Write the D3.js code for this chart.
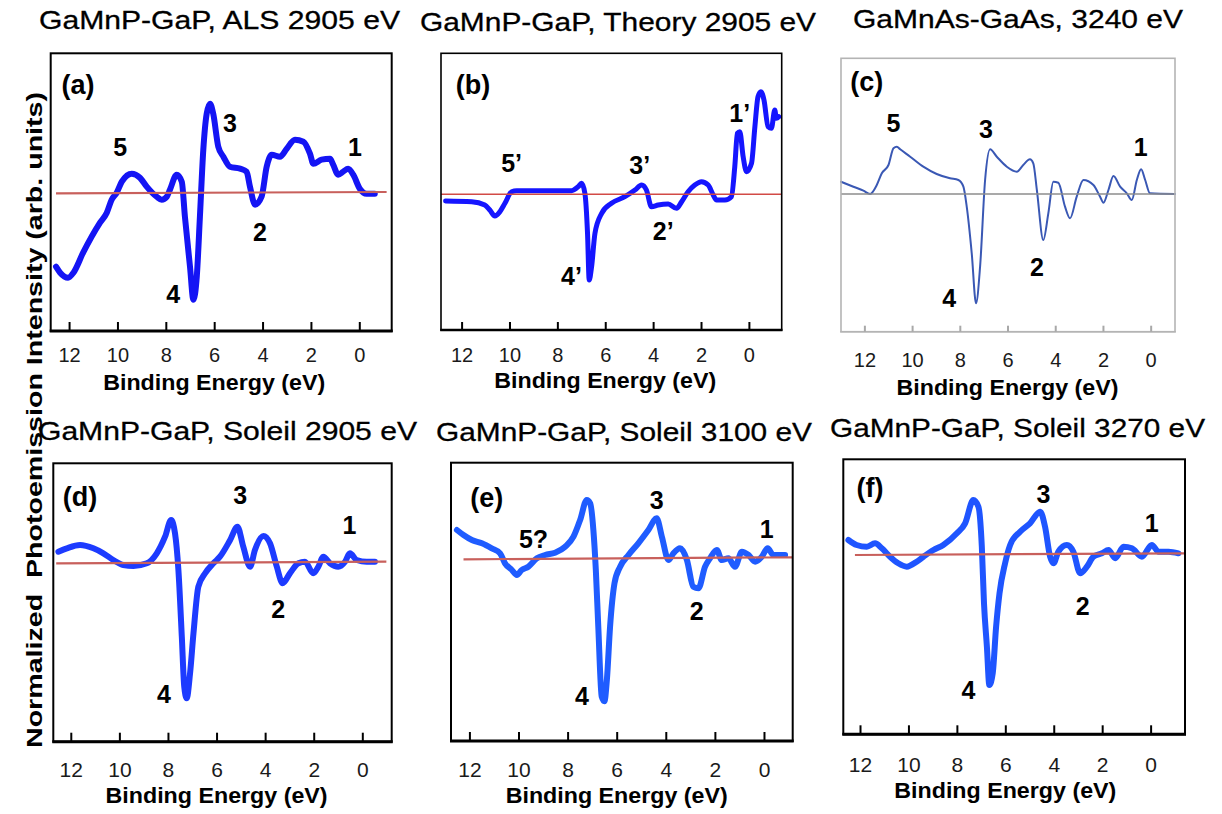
<!DOCTYPE html>
<html>
<head>
<meta charset="utf-8">
<script src="https://cdn.jsdelivr.net/npm/d3@7/dist/d3.min.js"></script>
<style>
  html, body { margin: 0; padding: 0; background: #fff; }
  svg { display: block; font-family: "Liberation Sans", Arial, Helvetica, sans-serif; }
</style>
</head>
<body>
<svg id="chart" width="1222" height="814"></svg>
<script>
// Binding-energy ticks shared by all panels (eV)
const energyTicks = [12, 10, 8, 6, 4, 2, 0];

const panelTitles = [
  "GaMnP-GaP, ALS 2905 eV",
  "GaMnP-GaP, Theory 2905 eV",
  "GaMnAs-GaAs, 3240 eV",
  "GaMnP-GaP, Soleil 2905 eV",
  "GaMnP-GaP, Soleil 3100 eV",
  "GaMnP-GaP, Soleil 3270 eV"
];
const panelTags = ["(a)", "(b)", "(c)", "(d)", "(e)", "(f)"];
const xTitle = "Binding Energy (eV)";
const yTitle = "Normalized  Photoemission Intensity (arb. units)";

// (a) GaMnP-GaP, ALS 2905 eV
const alsEnergy = [12.54,12.37,12.04,11.82,11.42,10.72,10.44,10.24,10.03,9.82,9.41,9.07,8.79,8.38,8.17,7.96,7.83,7.55,7.34,7.21,7.0,6.86,6.72,6.59,6.45,6.31,6.17,6.04,5.83,5.62,5.35,4.93,4.66,4.52,4.31,4.04,3.83,3.62,3.28,3.0,2.66,2.31,2.04,1.90,1.56,1.21,1.08,0.87,0.67,0.46,0.25,-0.02,-0.30,-0.64];
const alsSignal = [-0.74,-0.80,-0.85,-0.80,-0.60,-0.30,-0.20,-0.07,0.00,0.11,0.19,0.15,0.06,-0.04,-0.07,-0.04,0.03,0.18,0.11,-0.24,-0.74,-1.07,-0.84,-0.24,0.43,0.79,0.89,0.79,0.46,0.36,0.26,0.24,0.21,0.06,-0.12,-0.04,0.26,0.38,0.36,0.44,0.53,0.51,0.39,0.29,0.33,0.34,0.28,0.18,0.21,0.24,0.18,0.04,-0.01,-0.01];
const alsPeakText = ["5", "3", "1", "2", "4"];
const alsPeakEnergy = [9.89, 5.35, 0.18, 4.11, 7.69];
const alsPeakLevel = [0.46, 0.70, 0.46, -0.39, -1.01];

// (b) GaMnP-GaP, theory 2905 eV
const theoryEnergy = [12.67,11.58,11.03,10.82,10.61,10.40,10.19,9.91,9.70,7.41,7.13,6.99,6.85,6.74,6.67,6.57,6.43,6.15,5.74,5.18,4.76,4.48,4.28,4.07,3.79,3.37,3.02,2.81,2.54,2.26,1.98,1.70,1.49,1.35,1.00,0.73,0.59,0.48,0.38,0.24,0.10,-0.11,-0.25,-0.38,-0.50,-0.63,-0.80,-0.94,-1.08,-1.15,-1.25];
const theorySignal = [-0.067,-0.074,-0.107,-0.157,-0.217,-0.174,-0.09,0.026,0.036,0.036,0.076,0.11,0.01,-0.39,-0.857,-0.724,-0.39,-0.19,-0.09,-0.024,0.043,0.093,0.043,-0.124,-0.107,-0.097,-0.14,-0.074,0.026,0.093,0.126,0.093,-0.007,-0.057,-0.057,-0.024,0.276,0.61,0.626,0.376,0.226,0.31,0.676,0.976,1.026,0.943,0.676,0.66,0.843,0.76,0.776];
const theoryPeakText = ["5\u2019", "4\u2019", "3\u2019", "2\u2019", "1\u2019"];
const theoryPeakEnergy = [9.91, 7.41, 4.56, 3.58, 0.38];
const theoryPeakLevel = [0.31, -0.82, 0.29, -0.37, 0.81];

// (c) GaMnAs-GaAs, 3240 eV
const gaasEnergy = [12.98,12.46,12.04,11.76,11.48,11.27,10.99,10.78,10.64,10.50,10.08,9.53,8.97,8.41,8.06,7.85,7.71,7.50,7.32,7.15,6.94,6.73,6.45,6.03,5.61,5.34,5.06,4.92,4.77,4.50,4.29,4.08,3.87,3.59,3.38,3.10,2.82,2.40,2.12,1.98,1.77,1.56,1.28,1.00,0.79,0.58,0.40,0.23,0.03,-1.02];
const gaasSignal = [0.123,0.073,0.033,0.0,0.09,0.207,0.29,0.457,0.473,0.447,0.373,0.273,0.20,0.157,0.14,0.073,-0.127,-0.593,-1.093,-0.727,0.14,0.447,0.373,0.273,0.223,0.29,0.347,0.307,0.04,-0.46,-0.193,0.123,0.113,-0.127,-0.243,-0.027,0.14,0.09,-0.027,-0.087,0.04,0.18,0.073,0.007,-0.06,0.14,0.247,0.14,0.007,0.0];
const gaasPeakText = ["5", "3", "1", "2", "4"];
const gaasPeakEnergy = [10.78, 6.90, 0.42, 4.77, 8.44];
const gaasPeakLevel = [0.71, 0.65, 0.47, -0.73, -1.04];

// (d) GaMnP-GaP, Soleil 2905 eV
const soleil2905Energy = [12.51,12.16,11.62,11.07,10.66,10.25,9.84,9.42,8.87,8.46,8.12,7.87,7.71,7.57,7.43,7.33,7.23,7.09,6.95,6.75,6.47,6.13,5.86,5.44,5.14,4.90,4.62,4.42,4.07,3.80,3.52,3.28,2.98,2.63,2.36,2.02,1.81,1.60,1.33,0.99,0.71,0.51,0.23,-0.18,-0.52];
const soleil2905Signal = [0.11,0.144,0.177,0.144,0.094,0.027,-0.023,-0.033,-0.006,0.094,0.26,0.427,0.294,-0.073,-0.74,-1.24,-1.356,-1.106,-0.706,-0.24,-0.106,-0.006,0.06,0.227,0.36,0.16,-0.04,0.127,0.267,0.194,-0.04,-0.206,-0.106,-0.006,0.01,-0.106,-0.04,0.06,-0.006,-0.04,0.01,0.094,0.027,0.01,0.01];
const soleil2905PeakText = ["3", "1", "2", "4"];
const soleil2905PeakEnergy = [5.03, 0.53, 3.46, 8.16];
const soleil2905PeakLevel = [0.68, 0.38, -0.46, -1.31];

// (e) GaMnP-GaP, Soleil 3100 eV
const soleil3100Energy = [12.51,12.24,11.90,11.49,11.09,10.75,10.55,10.27,10.07,9.87,9.60,9.25,8.92,8.51,8.10,7.76,7.49,7.22,7.08,6.95,6.85,6.75,6.61,6.50,6.40,6.27,6.09,5.86,5.52,5.12,4.71,4.37,4.16,3.89,3.69,3.42,3.14,2.88,2.67,2.40,2.20,1.92,1.72,1.45,1.18,0.90,0.63,0.36,0.09,-0.15,-0.38,-0.86];
const soleil3100Signal = [0.283,0.233,0.183,0.15,0.10,0.05,-0.05,-0.117,-0.167,-0.117,-0.084,0.0,0.033,0.056,0.116,0.216,0.383,0.583,0.55,0.283,-0.117,-0.684,-1.384,-1.43,-1.217,-0.684,-0.25,-0.084,0.033,0.15,0.283,0.40,0.216,-0.017,0.05,0.10,-0.017,-0.284,-0.30,-0.084,0.0,0.083,-0.017,0.0,-0.084,0.066,0.033,-0.034,0.016,0.10,0.033,0.033];
const soleil3100PeakText = ["5?", "3", "1", "2", "4"];
const soleil3100PeakEnergy = [9.39, 4.37, -0.11, 2.74, 7.42];
const soleil3100PeakLevel = [0.19, 0.58, 0.29, -0.53, -1.38];

// (f) GaMnP-GaP, Soleil 3270 eV
const soleil3270Energy = [12.48,12.14,11.72,11.38,11.10,10.76,10.42,10.07,9.66,9.38,8.97,8.56,8.00,7.66,7.32,7.11,6.97,6.88,6.76,6.66,6.52,6.38,6.24,6.01,5.80,5.39,4.98,4.56,4.36,4.15,4.01,3.81,3.46,3.19,2.91,2.63,2.36,2.01,1.74,1.46,1.12,0.77,0.36,-0.05,-0.33,-0.74,-1.15];
const soleil3270Signal = [0.143,0.093,0.076,0.11,0.06,-0.024,-0.09,-0.124,-0.074,-0.024,0.043,0.093,0.21,0.31,0.543,0.476,0.076,-0.49,-0.924,-1.307,-1.19,-0.724,-0.39,-0.09,0.093,0.226,0.31,0.426,0.276,-0.024,-0.09,0.026,0.093,0.026,-0.19,-0.124,-0.024,0.01,0.043,-0.04,0.076,0.06,-0.024,0.093,0.026,0.026,0.01];
const soleil3270PeakText = ["3", "1", "2", "4"];
const soleil3270PeakEnergy = [4.43, -0.05, 2.80, 7.52];
const soleil3270PeakLevel = [0.60, 0.31, -0.52, -1.36];

// Zero-reference lines: [start eV, end eV] and the level at each end
const baseEnergy = [[12.54, -1.13], [12.86, -1.37], [12.98, -1.02], [12.60, -0.99], [12.24, -1.17], [12.21, -1.43]];
const baseLevel = [[-0.006, 0.007], [0, 0], [0, 0], [-0.006, 0.01], [-0.01, 0.01], [-0.007, 0.01]];

// Panel placement and styling
const panels = [
  { box: [50.7, 53.3, 391.7, 331], xDom: [12.76, -1.34], yDom: [-1.383, 1.394],
    energy: alsEnergy, signal: alsSignal, color: "#1414f4", width: 6,
    peaks: [alsPeakText, alsPeakEnergy, alsPeakLevel], tagAt: [11.63, 1.08],
    title: [39, 400, 29], tickY: 30.7, axisY: 59, baseColor: "#c8605c", baseWidth: 2.2,
    frame: "#000", frameW: 2, bottomW: 3, tickColor: "#000", tickLen: 9, tickFont: 20 },
  { box: [441, 53.3, 781.7, 330], xDom: [12.86, -1.37], yDom: [-1.357, 1.41],
    energy: theoryEnergy, signal: theorySignal, color: "#1515ff", width: 5,
    peaks: [theoryPeakText, theoryPeakEnergy, theoryPeakLevel], tagAt: [11.52, 1.09],
    title: [420, 816, 30.5], tickY: 31.7, axisY: 58.3, baseColor: "#d24a46", baseWidth: 1.5,
    frame: "#000", frameW: 1.6, bottomW: 2.6, tickColor: "#000", tickLen: 8, tickFont: 20 },
  { box: [841, 58.3, 1175, 331.7], xDom: [12.98, -1.02], yDom: [-1.377, 1.357],
    energy: gaasEnergy, signal: gaasSignal, color: "#3a58b4", width: 2,
    peaks: [gaasPeakText, gaasPeakEnergy, gaasPeakLevel], tagAt: [11.90, 1.12],
    title: [853, 1183, 27.5], tickY: 35, axisY: 63, baseColor: "#8c8c8c", baseWidth: 1.4,
    frame: "#b4b4b4", frameW: 1.6, bottomW: 1.6, tickColor: "#a8a8a8", tickLen: 6, tickFont: 20 },
  { box: [53.3, 463.3, 391.7, 741.7], xDom: [12.72, -1.21], yDom: [-1.79, 0.994],
    energy: soleil2905Energy, signal: soleil2905Signal, color: "#1d3bff", width: 6,
    peaks: [soleil2905PeakText, soleil2905PeakEnergy, soleil2905PeakLevel], tagAt: [11.62, 0.66],
    title: [38, 417, 440], tickY: 35, axisY: 61.6, baseColor: "#c8605c", baseWidth: 2.2,
    frame: "#000", frameW: 2, bottomW: 3, tickColor: "#000", tickLen: 9, tickFont: 21 },
  { box: [451, 462.7, 792.7, 741], xDom: [12.75, -1.17], yDom: [-1.827, 0.956],
    energy: soleil3100Energy, signal: soleil3100Signal, color: "#1f5cff", width: 6,
    peaks: [soleil3100PeakText, soleil3100PeakEnergy, soleil3100PeakLevel], tagAt: [11.29, 0.60],
    title: [436, 812, 440.5], tickY: 35.7, axisY: 62, baseColor: "#c8605c", baseWidth: 2.2,
    frame: "#000", frameW: 2, bottomW: 3, tickColor: "#000", tickLen: 9, tickFont: 21 },
  { box: [843.3, 459.3, 1185, 734.3], xDom: [12.69, -1.42], yDom: [-1.80, 0.95],
    energy: soleil3270Energy, signal: soleil3270Signal, color: "#1f55ff", width: 6,
    peaks: [soleil3270PeakText, soleil3270PeakEnergy, soleil3270PeakLevel], tagAt: [11.59, 0.66],
    title: [830, 1205, 437], tickY: 37.4, axisY: 63.7, baseColor: "#c8605c", baseWidth: 2.2,
    frame: "#000", frameW: 2, bottomW: 3, tickColor: "#000", tickLen: 9, tickFont: 21 }
];

const svg = d3.select("#chart");

panels.forEach((p, i) => {
  const [L, T, R, B] = p.box;
  const x = d3.scaleLinear().domain(p.xDom).range([L, R]);
  const y = d3.scaleLinear().domain(p.yDom).range([B, T]);
  const g = svg.append("g").attr("class", "panel panel-" + i);

  // panel title above the frame
  g.append("text")
    .attr("x", p.title[0]).attr("y", p.title[2])
    .attr("textLength", p.title[1] - p.title[0])
    .attr("lengthAdjust", "spacingAndGlyphs")
    .attr("font-size", 26).attr("fill", "#000")
    .attr("stroke", "#000").attr("stroke-width", 0.3)
    .text(panelTitles[i]);

  // spectrum
  const line = d3.line()
    .x(d => x(d[0])).y(d => y(d[1]))
    .curve(d3.curveMonotoneX);
  g.append("path")
    .datum(d3.zip(p.energy, p.signal))
    .attr("d", line)
    .attr("fill", "none")
    .attr("stroke", p.color)
    .attr("stroke-width", p.width)
    .attr("stroke-linejoin", "round")
    .attr("stroke-linecap", "round");

  // zero reference line
  g.append("line")
    .attr("x1", x(baseEnergy[i][0])).attr("x2", x(baseEnergy[i][1]))
    .attr("y1", y(baseLevel[i][0])).attr("y2", y(baseLevel[i][1]))
    .attr("stroke", p.baseColor).attr("stroke-width", p.baseWidth);

  // frame
  g.append("rect")
    .attr("x", L).attr("y", T).attr("width", R - L).attr("height", B - T)
    .attr("fill", "none").attr("stroke", p.frame).attr("stroke-width", p.frameW);
  g.append("line")
    .attr("x1", L - p.frameW / 2).attr("x2", R + p.frameW / 2)
    .attr("y1", B).attr("y2", B)
    .attr("stroke", p.frame).attr("stroke-width", p.bottomW);

  // bottom axis with inward ticks
  const axis = d3.axisBottom(x).tickValues(energyTicks)
    .tickSizeInner(-p.tickLen).tickSizeOuter(0).tickFormat(d3.format("d"));
  const ax = g.append("g").attr("transform", `translate(0,${B})`).call(axis);
  ax.select(".domain").remove();
  ax.selectAll(".tick line").attr("stroke", p.tickColor).attr("stroke-width", 2);
  ax.selectAll(".tick text")
    .attr("y", p.tickY).attr("dy", null)
    .attr("font-size", p.tickFont)
    .attr("font-family", "'Liberation Sans', Arial, sans-serif")
    .attr("fill", "#1a1a1a");

  // axis title
  g.append("text")
    .attr("x", x(6)).attr("y", B + p.axisY)
    .attr("text-anchor", "middle")
    .attr("textLength", 222).attr("lengthAdjust", "spacingAndGlyphs")
    .attr("font-size", 22).attr("font-weight", "bold").attr("fill", "#000")
    .text(xTitle);

  // panel tag
  g.append("text")
    .attr("x", x(p.tagAt[0])).attr("y", y(p.tagAt[1]))
    .attr("text-anchor", "middle").attr("dominant-baseline", "central")
    .attr("font-size", 27).attr("font-weight", "bold").attr("fill", "#000")
    .text(panelTags[i]);

  // feature labels
  const [texts, es, vs] = p.peaks;
  g.selectAll("text.peak")
    .data(texts.map((t, k) => ({ t, e: es[k], v: vs[k] })))
    .join("text")
    .attr("class", "peak")
    .attr("x", d => x(d.e)).attr("y", d => y(d.v))
    .attr("text-anchor", "middle").attr("dominant-baseline", "central")
    .attr("font-size", 25).attr("font-weight", "bold").attr("fill", "#000")
    .text(d => d.t);
});

// shared vertical axis title
svg.append("text")
  .attr("transform", "translate(41.5,420) rotate(-90)")
  .attr("text-anchor", "middle")
  .attr("textLength", 656).attr("lengthAdjust", "spacingAndGlyphs")
  .attr("font-size", 22).attr("font-weight", "bold").attr("fill", "#000")
  .style("white-space", "pre")
  .text(yTitle);
</script>
</body>
</html>
